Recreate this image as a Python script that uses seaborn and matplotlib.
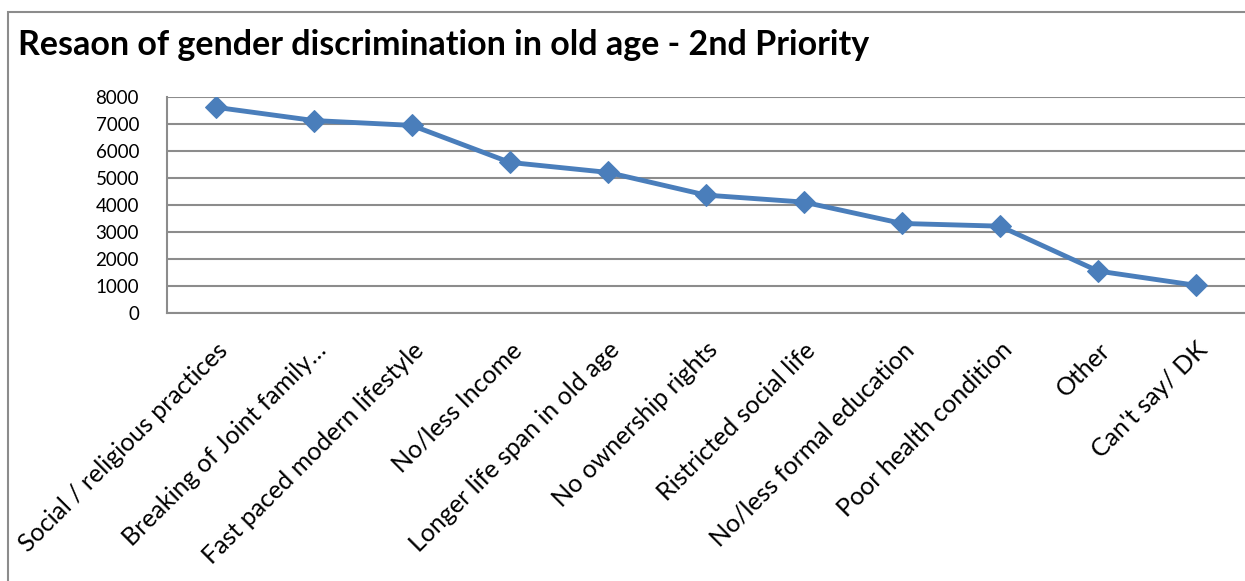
import matplotlib
matplotlib.use("Agg")
import matplotlib.pyplot as plt
import pandas as pd
import seaborn as sns
from matplotlib.patches import Rectangle
from matplotlib.ticker import FixedLocator

reasons = ["Social / religious practices", "Breaking of Joint family…",
           "Fast paced modern lifestyle", "No/less Income",
           "Longer life span in old age", "No ownership rights",
           "Ristricted social life", "No/less formal education",
           "Poor health condition", "Other", "Can't say/ DK"]
counts = [7620, 7130, 6950, 5580, 5210, 4370, 4110, 3320, 3220, 1560, 1030]
yticks = [0, 1000, 2000, 3000, 4000, 5000, 6000, 7000, 8000]

df = pd.DataFrame({"reason": reasons, "count": counts})

sns.set_style("white")
plt.rcParams["font.family"] = ["Lato", "DejaVu Sans"]
plt.rcParams["text.color"] = "black"
plt.rcParams["xtick.color"] = "black"
plt.rcParams["ytick.color"] = "black"

fig = plt.figure(figsize=(12.45, 5.81), dpi=100)
ax = fig.add_axes([0.134, 0.461, 0.866, 0.372])

# outer chart frame
fig.patches.append(Rectangle((8 / 1245, -0.1), 1.2, 1 - 12 / 581 + 0.1,
                             transform=fig.transFigure, fill=False,
                             edgecolor="#8c8c8c", linewidth=1.5))

x = list(range(len(reasons)))
sns.lineplot(x=x, y=df["count"], ax=ax, color="#4a7ebb", linewidth=3.5,
             marker="D", markersize=11, markeredgecolor="#4a7ebb", sort=False)

ax.set_ylim(0, 8000)
ax.set_xlim(-0.5, len(reasons) - 0.5)
ax.set_yticks(yticks)
ax.set_yticklabels([str(v) for v in yticks], fontsize=13.5)
ax.yaxis.grid(True, color="#8c8c8c", linewidth=1.5)
ax.set_axisbelow(True)

ax.set_xticks(x)
ax.set_xticklabels(reasons, rotation=45, ha="right", rotation_mode="anchor",
                   fontsize=18)
ax.xaxis.set_minor_locator(FixedLocator([i - 0.5 for i in range(len(reasons) + 1)]))
ax.tick_params(axis="x", which="major", length=0, pad=18, labelcolor="black")
ax.tick_params(axis="x", which="minor", length=7, width=1.2, color="#8c8c8c", direction="out")
ax.tick_params(axis="y", length=6, width=1.2, color="#8c8c8c", direction="out", pad=14,
               labelcolor="black")
ax.set_xlabel("")
ax.set_ylabel("")

for side in ["top", "right"]:
    ax.spines[side].set_visible(False)
for side in ["left", "bottom"]:
    ax.spines[side].set_color("#8c8c8c")
    ax.spines[side].set_linewidth(1.5)

fig.text(18 / 1245, 1 - 45 / 581, "Resaon of gender discrimination in old age - 2nd Priority",
         fontsize=24.5, fontweight="bold", va="center", ha="left", color="black")

fig.savefig("out.png", dpi=100)
